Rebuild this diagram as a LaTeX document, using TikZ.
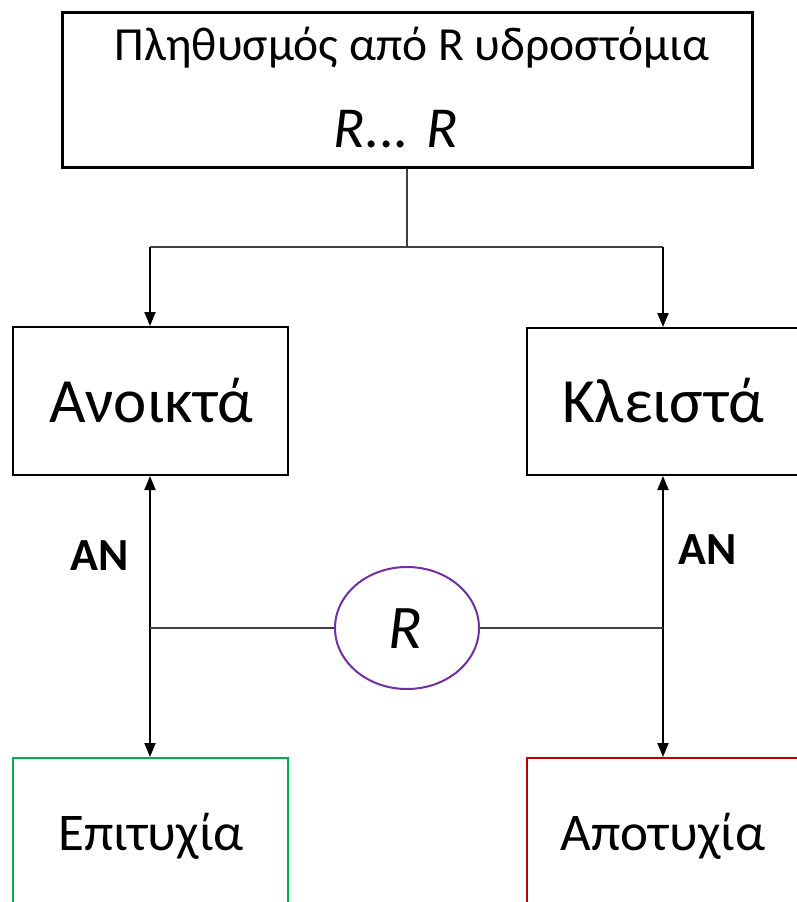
\documentclass[tikz,border=0pt]{standalone}
\usepackage{fontspec}
\setmainfont{Carlito}
\usetikzlibrary{arrows.meta,shapes.geometric}
\definecolor{okgreen}{HTML}{00B050}
\definecolor{badred}{HTML}{C00000}
\definecolor{rpurple}{HTML}{7030A0}
\begin{document}
\begin{tikzpicture}[x=1pt,y=-1pt,
  box/.style={draw=black,line width=2pt,rectangle,inner sep=0pt},
  thinline/.style={draw=black!75,line width=1.5pt},
  arr/.style={draw=black,line width=2pt,-{Triangle[length=14pt,width=11pt]}},
  arrtwo/.style={draw=black,line width=2pt,{Triangle[length=14pt,width=11pt]}-{Triangle[length=14pt,width=11pt]}},
  big/.style={font=\fontsize{63}{70}\selectfont},
  mid/.style={font=\fontsize{53}{60}\selectfont},
  lab/.style={font=\fontsize{46}{52}\selectfont\bfseries}]
\useasboundingbox (0,0) rectangle (797,902);
\clip (0,0) rectangle (797,902);
% boxes
\node[box,line width=3pt,minimum width=690pt,minimum height=155pt] (top) at (407,89.5) {};
\node[anchor=base,font=\fontsize{47.5}{54}\selectfont] (t1) at (412,60) {Πληθυσμός από R υδροστόμια};
\node[anchor=base,font=\fontsize{58}{64}\selectfont\itshape] (t2) at (396,147) {R... R};
\node[box,minimum width=275pt,minimum height=148pt] (open) at (150.5,401) {};
\node[anchor=base,big] (topen) at (151,422) {Ανοικτά};
\node[box,minimum width=272pt,minimum height=147pt] (closed) at (663,401.5) {};
\node[anchor=base,big] (tclosed) at (663,422) {Κλειστά};
\node[box,draw=okgreen,minimum width=275pt,minimum height=154pt] (succ) at (150.5,835) {};
\node[anchor=base,mid] (tsucc) at (151,850) {Επιτυχία};
\node[box,draw=badred,minimum width=272pt,minimum height=154pt] (fail) at (663,835) {};
\node[anchor=base,mid] (tfail) at (663,850) {Αποτυχία};
% circle
\node[ellipse,draw=rpurple,line width=2pt,minimum width=144pt,minimum height=122pt,inner sep=0pt] (circ) at (407,628) {};
\node[anchor=base,font=\fontsize{62}{68}\selectfont\itshape] (rc) at (405,648) {R};
% AN labels
\node[anchor=base,lab] (an1) at (100,570) {AN};
\node[anchor=base,lab] (an2) at (708,564) {AN};
% connectors
\coordinate (j) at (407,247);
\coordinate (jl) at (150,247);
\coordinate (jr) at (663,247);
\draw[thinline] (top.south) -- (j);
\draw[thinline] (jl) -- (jr);
\draw[arr] (jl) -- (jl |- open.north);
\draw[arr] (jr) -- (jr |- closed.north);
\draw[arrtwo] (open.south -| jl) -- (succ.north -| jl);
\draw[arrtwo] (closed.south -| jr) -- (fail.north -| jr);
\draw[thinline] (circ.west) -- (circ.west -| jl);
\draw[thinline] (circ.east) -- (circ.east -| jr);
\end{tikzpicture}
\end{document}
